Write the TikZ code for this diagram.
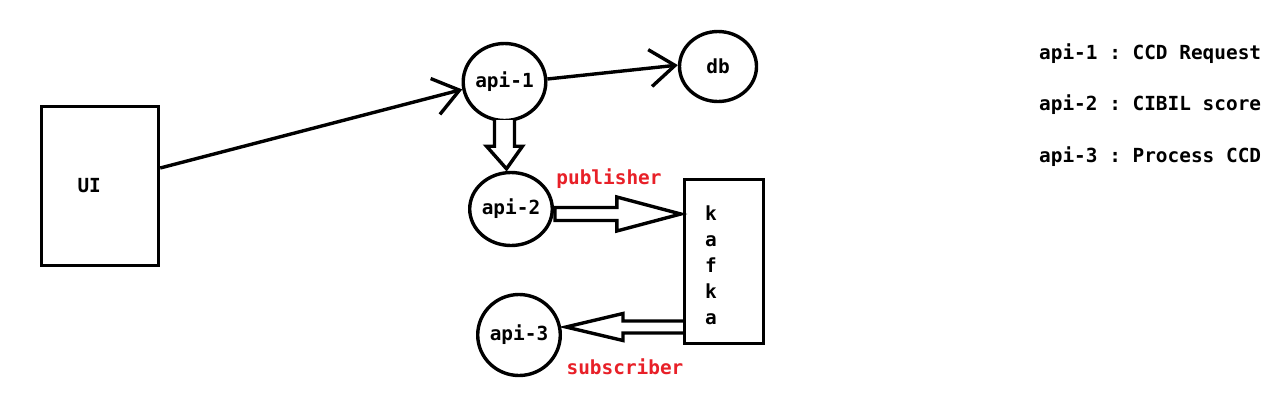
\documentclass[tikz,border=0pt]{standalone}
\usepackage{fontspec}
\setmonofont{DejaVu Sans Mono}
\usetikzlibrary{shapes, arrows.meta, calc}
\definecolor{labelred}{RGB}{232,32,40}
\tikzstyle{block} = [draw, fill=white, rectangle, line width=3.4pt, inner sep=0pt]
\tikzstyle{svc} = [draw, ellipse, line width=3.4pt, inner sep=0pt]
\tikzstyle{hollow} = [draw, fill=white, line width=3.4pt, line join=miter]
\tikzstyle{legend} = [anchor=west, inner sep=0pt]
\tikzstyle{role} = [text=labelred, inner sep=0pt]

\begin{document}
\begin{tikzpicture}[x=1pt, y=-1pt, >={Straight Barb[length=25pt,width=37pt]},
    font=\ttfamily\bfseries\fontsize{19.4}{26}\selectfont]
    \fill [white] (0,0) rectangle (1280,405);
    \useasboundingbox (0,0) rectangle (1280,405);
    % nodes
    \node [block, minimum width=117pt, minimum height=159pt, text width=45pt, align=left] (ui) at (100,186) {UI};
    \node [svc, minimum width=82pt, minimum height=77pt] (api1) at (504.5,82) {api-1};
    \node [svc, minimum width=77pt, minimum height=70pt] (db) at (718,66.5) {db};
    \node [svc, minimum width=77pt, minimum height=73pt] (api2) at (511,209) {api-2};
    \node [svc, minimum width=75pt, minimum height=81pt] (api3) at (519,335) {api-3};
    \node [block, minimum width=79pt, minimum height=164pt, text width=38pt, align=left] (kafka) at (724,261.5) {\rule{0pt}{22pt}k\\a\\f\\k\\a};
    % plain arrows
    \draw [line width=3.4pt, ->] ($(ui.east)+(0,-18)$) -- (api1.190);
    \draw [line width=3.4pt, ->] (api1.4) -- (db.178);
    % api-1 to api-2
    \draw [hollow] ($(api1.south)+(-10,-2)$) -- ($(api1.south)+(-10,24)$) -- ($(api1.south)+(-18,24)$)
        -- ($(api2.north)+(-4.5,-2)$) -- ($(api1.south)+(18,24)$) -- ($(api1.south)+(10,24)$) -- ($(api1.south)+(10,-2)$);
    % publisher
    \coordinate (pubS) at ($(api2.east)+(1,5)$);
    \coordinate (pubE) at ($(kafka.west |- pubS)+(-2,0)$);
    \draw [hollow] ($(pubS)+(0,-6.5)$) -- ($(pubE)+(-64,-6.5)$) -- ($(pubE)+(-64,-17)$) -- (pubE)
        -- ($(pubE)+(-64,17)$) -- ($(pubE)+(-64,6.5)$) -- ($(pubS)+(0,6.5)$) -- cycle;
    \node [role] (pubtxt) at (609,179) {publisher};
    % subscriber
    \coordinate (subS) at ($(kafka.west |- api3.east)+(0,-8)$);
    \coordinate (subE) at ($(api3.east)+(4,-8)$);
    \draw [hollow] ($(subS)+(0,-6)$) -- ($(subE)+(57,-6)$) -- ($(subE)+(57,-13.5)$) -- (subE)
        -- ($(subE)+(57,13.5)$) -- ($(subE)+(57,6)$) -- ($(subS)+(0,6)$);
    \node [role] (subtxt) at (625,367) {subscriber};
    % legend
    \node [legend] (leg1) at (1039,54) {api-1 : CCD Request};
    \node [legend] (leg2) at (1039,105) {api-2 : CIBIL score};
    \node [legend] (leg3) at (1039,157) {api-3 : Process CCD};
\end{tikzpicture}
\end{document}
